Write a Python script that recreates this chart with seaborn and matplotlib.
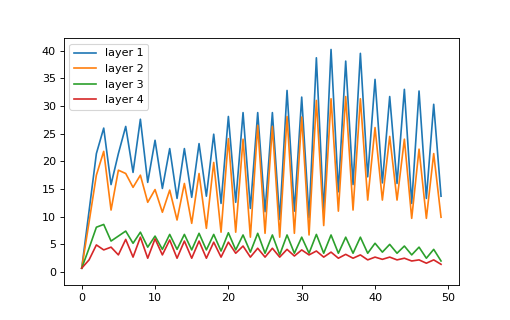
import numpy as np
import pandas as pd
import seaborn as sns
import matplotlib
matplotlib.use("Agg")
import matplotlib.pyplot as plt

# values, one per step (0..49)
layer_1 = [0.7, 11.0, 21.4, 26.0, 15.8, 21.4, 26.3, 18.0, 27.6, 16.2,
           23.8, 15.1, 22.3, 13.3, 22.3, 13.5, 23.2, 13.7, 24.9, 12.4,
           28.1, 12.6, 28.8, 11.5, 28.8, 10.9, 28.8, 9.5, 32.8, 11.0,
           31.6, 9.8, 38.7, 10.8, 40.2, 14.5, 38.1, 15.8, 39.5, 17.2,
           34.8, 16.1, 31.7, 16.0, 33.0, 12.4, 32.7, 13.3, 30.3, 13.7]
layer_2 = [0.7, 9.0, 17.5, 21.8, 11.2, 18.4, 17.8, 15.3, 17.5, 12.6,
           14.9, 10.8, 14.8, 9.4, 16.0, 8.8, 17.8, 7.9, 19.8, 7.2,
           24.1, 7.2, 24.0, 6.3, 26.5, 7.0, 26.3, 6.3, 28.1, 7.0,
           28.0, 6.7, 31.0, 8.4, 31.3, 11.0, 31.7, 11.2, 31.3, 13.0,
           26.1, 13.0, 24.5, 13.0, 24.0, 9.7, 22.2, 9.7, 21.4, 9.9]
layer_3 = [0.7, 4.3, 8.1, 8.6, 5.6, 6.5, 7.4, 5.2, 7.2, 4.5,
           6.5, 4.1, 6.8, 4.1, 6.8, 4.0, 7.0, 4.0, 6.8, 3.8,
           7.1, 4.0, 6.7, 3.6, 7.0, 3.4, 6.7, 3.1, 6.7, 3.4,
           6.3, 3.4, 6.8, 3.4, 6.7, 3.4, 6.3, 3.4, 6.3, 3.4,
           5.2, 3.6, 5.0, 3.4, 4.7, 3.1, 4.5, 2.5, 4.1, 2.0]
layer_4 = [0.7, 2.2, 4.9, 4.0, 4.5, 3.1, 5.9, 2.7, 6.3, 2.5,
           6.0, 3.1, 5.8, 2.5, 5.6, 2.5, 5.6, 2.5, 5.4, 2.7,
           5.4, 3.4, 4.7, 2.7, 4.3, 2.7, 4.3, 2.7, 4.1, 2.9,
           4.0, 3.1, 3.8, 2.7, 3.6, 2.5, 3.2, 2.5, 3.1, 2.2,
           2.7, 2.3, 2.7, 2.2, 2.5, 2.0, 2.2, 1.6, 2.2, 1.4]
layer_names = ["layer 1", "layer 2", "layer 3", "layer 4"]

# long format for seaborn
frames = []
for name, vals in zip(layer_names, [layer_1, layer_2, layer_3, layer_4]):
    frames.append(pd.DataFrame({"step": np.arange(len(vals)), "value": vals, "layer": name}))
df = pd.concat(frames, ignore_index=True)

fig, ax = plt.subplots(figsize=(6.375, 4), dpi=80)
sns.lineplot(data=df, x="step", y="value", hue="layer", palette="tab10", linewidth=1.5, ax=ax)
ax.set_xlabel("")
ax.set_ylabel("")
ax.set_ylim(-2.3, 42.2)
handles, labels = ax.get_legend_handles_labels()
ax.legend(handles, labels, loc="upper left")

plt.savefig("out.png", dpi=80)
